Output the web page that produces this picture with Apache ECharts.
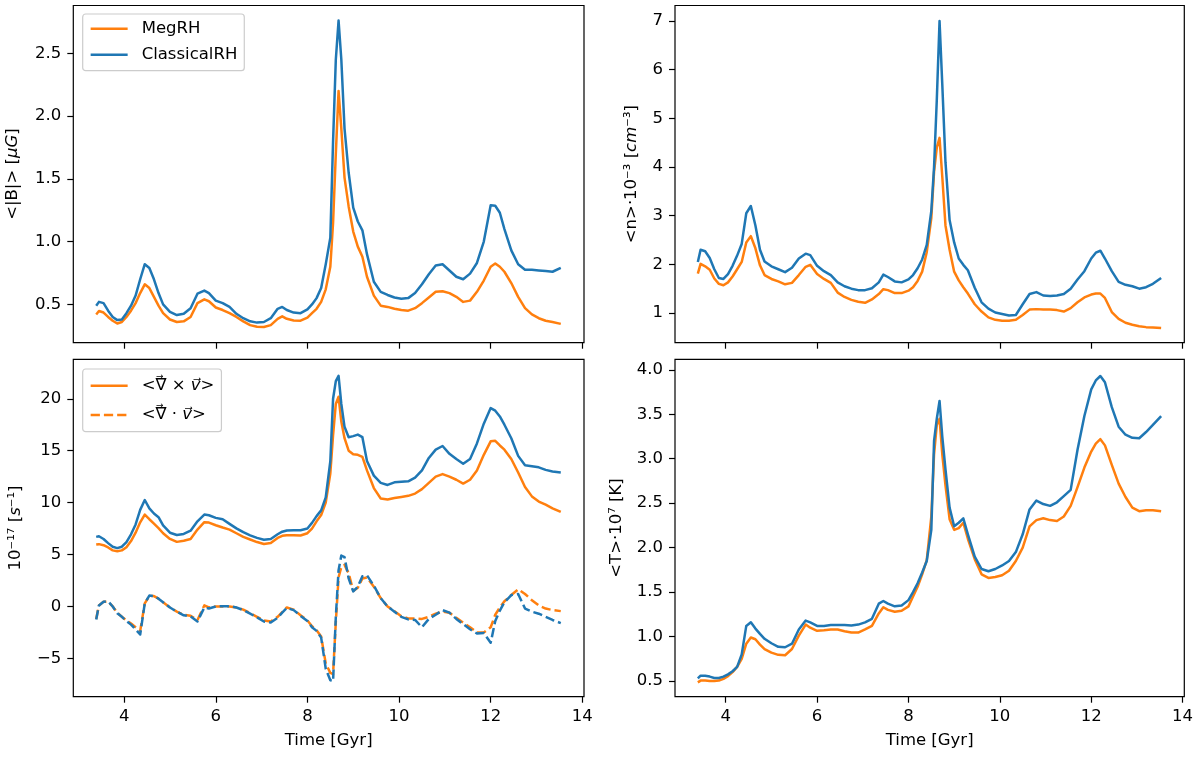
<!DOCTYPE html>
<html>
<head>
<meta charset="utf-8">
<script src="https://cdn.jsdelivr.net/npm/echarts@6/dist/echarts.min.js"></script>
<style>
  html, body { margin: 0; padding: 0; background: #fff; }
  #chart { width: 1200px; height: 758px; }
</style>
</head>
<body>
<div id="chart"></div>
<script>
// snapshot times [Gyr], shared by all four panels
const time = [3.39, 3.45, 3.55, 3.65, 3.75, 3.85, 3.95, 4.05, 4.15, 4.25,
  4.35, 4.45, 4.55, 4.65, 4.75, 4.85, 5.0, 5.15, 5.3, 5.45,
  5.6, 5.75, 5.85, 6.0, 6.15, 6.3, 6.45, 6.6, 6.75, 6.9,
  7.05, 7.2, 7.35, 7.45, 7.55, 7.7, 7.85, 8.0, 8.1, 8.2,
  8.3, 8.4, 8.5, 8.56, 8.62, 8.68, 8.74, 8.81, 8.9, 9.0,
  9.1, 9.2, 9.3, 9.45, 9.6, 9.75, 9.9, 10.05, 10.2, 10.35,
  10.5, 10.65, 10.8, 10.95, 11.1, 11.25, 11.4, 11.55, 11.7, 11.85,
  12.0, 12.1, 12.2, 12.3, 12.45, 12.6, 12.75, 12.9, 13.05, 13.2,
  13.35, 13.53];

// <|B|> [muG]
const bClassic = [0.49, 0.52, 0.51, 0.45, 0.40, 0.375, 0.38, 0.43, 0.49, 0.57,
  0.70, 0.82, 0.79, 0.70, 0.59, 0.50, 0.44, 0.415, 0.425, 0.47,
  0.585, 0.61, 0.59, 0.53, 0.51, 0.48, 0.425, 0.39, 0.365, 0.355,
  0.36, 0.39, 0.465, 0.48, 0.455, 0.435, 0.43, 0.46, 0.50, 0.55,
  0.63, 0.82, 1.03, 1.8, 2.45, 2.76, 2.45, 1.9, 1.55, 1.27,
  1.16, 1.09, 0.9, 0.68, 0.60, 0.575, 0.555, 0.545, 0.55, 0.59,
  0.66, 0.74, 0.81, 0.82, 0.77, 0.72, 0.70, 0.745, 0.83, 1.0,
  1.29, 1.285, 1.23, 1.10, 0.93, 0.82, 0.776, 0.775, 0.77, 0.765,
  0.76, 0.79];
const bMeg = [0.42, 0.447, 0.435, 0.40, 0.37, 0.348, 0.36, 0.40, 0.45, 0.51,
  0.59, 0.66, 0.63, 0.56, 0.49, 0.43, 0.38, 0.36, 0.365, 0.40,
  0.51, 0.54, 0.525, 0.475, 0.455, 0.43, 0.40, 0.365, 0.335, 0.322,
  0.32, 0.335, 0.385, 0.405, 0.385, 0.372, 0.37, 0.395, 0.43, 0.465,
  0.52, 0.62, 0.80, 1.15, 1.7, 2.2, 1.9, 1.51, 1.28, 1.08,
  0.96, 0.88, 0.72, 0.57, 0.49, 0.48, 0.465, 0.455, 0.45, 0.47,
  0.51, 0.555, 0.60, 0.605, 0.59, 0.56, 0.52, 0.53, 0.60, 0.69,
  0.80, 0.825, 0.80, 0.76, 0.67, 0.56, 0.47, 0.42, 0.39, 0.37,
  0.36, 0.345];

// <n> 10^-3 cm^-3
const nClassic = [2.05, 2.3, 2.27, 2.13, 1.90, 1.72, 1.70, 1.80, 1.97, 2.18,
  2.42, 3.05, 3.2, 2.8, 2.3, 2.06, 1.96, 1.90, 1.84, 1.93,
  2.12, 2.22, 2.19, 1.97, 1.86, 1.78, 1.63, 1.55, 1.50, 1.47,
  1.47, 1.51, 1.63, 1.79, 1.74, 1.65, 1.63, 1.69, 1.78, 1.92,
  2.1, 2.4, 3.1, 4.0, 5.38, 7.0, 5.7, 4.1, 2.91, 2.45,
  2.12, 1.99, 1.88, 1.52, 1.22, 1.09, 1.01, 0.98, 0.95, 0.96,
  1.18, 1.39, 1.43, 1.36, 1.35, 1.36, 1.39, 1.50, 1.69, 1.86,
  2.12, 2.24, 2.28, 2.12, 1.86, 1.64, 1.58, 1.55, 1.50, 1.53,
  1.60, 1.72];
const nMeg = [1.81, 2.01, 1.96, 1.89, 1.71, 1.60, 1.57, 1.63, 1.75, 1.90,
  2.05, 2.45, 2.58, 2.33, 1.98, 1.78, 1.70, 1.65, 1.59, 1.62,
  1.78, 1.95, 1.99, 1.80, 1.70, 1.62, 1.42, 1.33, 1.27, 1.23,
  1.21, 1.28, 1.39, 1.49, 1.47, 1.41, 1.41, 1.46, 1.53, 1.66,
  1.85, 2.25, 2.95, 3.9, 4.4, 4.6, 3.8, 2.8, 2.3, 1.85,
  1.67, 1.53, 1.40, 1.18, 1.03, 0.91, 0.86, 0.84, 0.84, 0.86,
  0.96, 1.07, 1.08, 1.07, 1.07, 1.06, 1.03, 1.10, 1.22, 1.32,
  1.38, 1.40, 1.40, 1.31, 1.02, 0.88, 0.80, 0.76, 0.73, 0.71,
  0.70, 0.69];

// 10^-17 s^-1 : curl (solid) and divergence (dashed)
const curlClassic = [6.7, 6.76, 6.5, 6.1, 5.75, 5.62, 5.75, 6.2, 6.95, 7.9,
  9.3, 10.25, 9.45, 8.95, 8.6, 7.8, 7.1, 6.88, 6.98, 7.3,
  8.2, 8.85, 8.78, 8.53, 8.4, 7.95, 7.52, 7.15, 6.85, 6.6,
  6.42, 6.5, 6.95, 7.2, 7.32, 7.34, 7.34, 7.5, 8.05, 8.7,
  9.25, 10.5, 14.0, 20.0, 21.7, 22.2, 19.5, 17.3, 16.3, 16.4,
  16.55, 16.3, 14.0, 12.6, 11.9, 11.7, 11.95, 12.0, 12.05, 12.4,
  13.1, 14.3, 15.1, 15.45, 14.7, 14.2, 13.75, 14.2, 15.7, 17.6,
  19.1, 18.85, 18.3, 17.5, 16.2, 14.5, 13.6, 13.5, 13.4, 13.15,
  13.0, 12.9];
const curlMeg = [5.96, 6.0, 5.9, 5.68, 5.4, 5.32, 5.4, 5.7, 6.3, 7.1,
  8.1, 8.85, 8.4, 7.98, 7.55, 7.05, 6.5, 6.22, 6.33, 6.5,
  7.4, 8.12, 8.08, 7.82, 7.6, 7.4, 7.05, 6.7, 6.45, 6.2,
  6.02, 6.1, 6.6, 6.8, 6.85, 6.85, 6.83, 7.05, 7.5, 8.2,
  8.8, 10.0, 12.8, 16.5, 19.5, 20.2, 17.8, 16.2, 15.0, 14.65,
  14.6, 14.4, 13.1, 11.4, 10.4, 10.3, 10.45, 10.55, 10.65, 10.87,
  11.3, 11.9, 12.5, 12.75, 12.5, 12.2, 11.83, 12.2, 13.1, 14.6,
  15.9, 15.95, 15.5, 15.1, 14.2, 12.9, 11.5, 10.6, 10.1, 9.8,
  9.45, 9.1];
const divClassic = [-1.25, 0.1, 0.45, 0.5, 0.0, -0.65, -1.0, -1.4, -1.75, -2.2,
  -2.7, 0.3, 1.05, 1.0, 0.75, 0.4, -0.1, -0.5, -0.85, -0.95,
  -1.45, -0.1, -0.19, 0.0, 0.02, 0.03, -0.1, -0.35, -0.7, -1.05,
  -1.45, -1.55, -1.1, -0.6, -0.15, -0.35, -0.9, -1.4, -2.0, -2.35,
  -3.0, -6.0, -7.1, -7.2, -1.0, 3.5, 4.9, 4.75, 2.7, 1.45,
  1.9, 2.9, 3.0, 2.0, 0.8, 0.0, -0.5, -1.0, -1.25, -1.3,
  -2.0, -1.2, -0.8, -0.35, -0.6, -1.2, -1.7, -2.2, -2.6, -2.55,
  -3.5, -1.4, -0.4, 0.4, 1.1, 1.2, -0.2, -0.5, -0.7, -1.0,
  -1.3, -1.6];
const divMeg = [-1.2, 0.1, 0.45, 0.45, 0.0, -0.6, -1.0, -1.35, -1.65, -2.0,
  -2.35, 0.3, 1.0, 1.0, 0.75, 0.4, -0.1, -0.5, -0.8, -0.9,
  -1.3, 0.1, -0.1, 0.0, 0.0, 0.0, -0.1, -0.3, -0.65, -1.0,
  -1.35, -1.45, -1.0, -0.55, -0.1, -0.3, -0.85, -1.35, -1.9, -2.3,
  -2.9, -5.5, -6.4, -6.5, -1.5, 2.8, 3.8, 4.0, 3.2, 1.5,
  1.8, 2.7, 2.8, 1.9, 0.8, 0.0, -0.45, -0.95, -1.15, -1.15,
  -1.2, -1.0, -0.7, -0.5, -0.6, -1.1, -1.55, -2.0, -2.5, -2.5,
  -2.0, -0.8, -0.1, 0.5, 1.1, 1.65, 1.2, 0.6, 0.1, -0.2,
  -0.35, -0.45];

// <T> 10^7 K
const tClassic = [0.53, 0.56, 0.56, 0.55, 0.535, 0.535, 0.55, 0.575, 0.61, 0.66,
  0.80, 1.12, 1.16, 1.09, 1.03, 0.975, 0.925, 0.885, 0.88, 0.92,
  1.08, 1.18, 1.16, 1.12, 1.12, 1.13, 1.13, 1.13, 1.125, 1.135,
  1.16, 1.2, 1.37, 1.40, 1.37, 1.34, 1.35, 1.41, 1.50, 1.60,
  1.72, 1.85, 2.2, 3.2, 3.45, 3.65, 3.25, 2.88, 2.45, 2.24,
  2.28, 2.33, 2.15, 1.9, 1.76, 1.735, 1.76, 1.80, 1.85, 1.95,
  2.15, 2.43, 2.53, 2.49, 2.47, 2.51, 2.58, 2.65, 3.1, 3.48,
  3.78, 3.88, 3.93, 3.86, 3.58, 3.36, 3.27, 3.235, 3.23, 3.30,
  3.38, 3.48];
const tMeg = [0.485, 0.505, 0.505, 0.50, 0.50, 0.505, 0.525, 0.555, 0.60, 0.66,
  0.75, 0.92, 0.99, 0.97, 0.91, 0.86, 0.82, 0.795, 0.79, 0.86,
  1.01, 1.135, 1.10, 1.065, 1.07, 1.08, 1.08, 1.06, 1.045, 1.045,
  1.08, 1.12, 1.26, 1.33, 1.30, 1.28, 1.29, 1.34, 1.45, 1.56,
  1.70, 1.86, 2.35, 3.05, 3.38, 3.45, 3.05, 2.7, 2.32, 2.2,
  2.22, 2.28, 2.1, 1.87, 1.70, 1.66, 1.67, 1.69, 1.74, 1.85,
  2.0, 2.24, 2.31, 2.33, 2.31, 2.30, 2.35, 2.47, 2.68, 2.9,
  3.08, 3.17, 3.22, 3.15, 2.93, 2.72, 2.57, 2.45, 2.41, 2.42,
  2.42, 2.41];

// tick labels
const xTicks = [4, 6, 8, 10, 12, 14];
const bTicks = [0.5, 1.0, 1.5, 2.0, 2.5];
const nTicks = [1, 2, 3, 4, 5, 6, 7];
const vTicks = [-5, 0, 5, 10, 15, 20];
const tTicks = [0.5, 1.0, 1.5, 2.0, 2.5, 3.0, 3.5, 4.0];

const ORANGE = '#ff7f0e';
const BLUE = '#1f77b4';
const FONT = 'DejaVu Sans';
const FS = 16.5;
const CURL = '<∇⃗ × v⃗>';
const DIV = '<∇⃗ · v⃗>';

const pairs = (ys) => time.map((t, i) => [t, ys[i]]);
const oneDec = (v) => v.toFixed(1);
const mplNum = (v) => (v < 0 ? '\u2212' + Math.abs(v) : String(v));

const panels = [
  { left: 73.3, top: 5.5, width: 510.7, height: 337.2, min: 0.195, max: 2.88,
    ticks: bTicks, fmt: oneDec, name: '<|B|> [{i|μG}]', gap: 52, xLab: false },
  { left: 675, top: 5.5, width: 509.3, height: 337.2, min: 0.39, max: 7.32,
    ticks: nTicks, fmt: mplNum, name: '<n>·10⁻³ [{i|cm}⁻³]', gap: 35, xLab: false },
  { left: 73.3, top: 359.3, width: 510.7, height: 337.4, min: -8.69, max: 23.8,
    ticks: vTicks, fmt: mplNum, name: '10⁻¹⁷ [{i|s}⁻¹]', gap: 49, xLab: true },
  { left: 675, top: 359.3, width: 509.3, height: 337.4, min: 0.324, max: 4.118,
    ticks: tTicks, fmt: oneDec, name: '<T>·10⁷ [K]', gap: 50, xLab: true }
];

const tickStyle = { color: '#000', width: 1.2 };
const labelStyle = { fontFamily: FONT, fontSize: FS, color: '#000' };

const grid = panels.map((p) => ({
  left: p.left, top: p.top, width: p.width, height: p.height,
  show: true, borderColor: '#000', borderWidth: 1.2, backgroundColor: 'transparent'
}));

const xAxis = panels.map((p, i) => ({
  type: 'value', gridIndex: i, min: 2.89, max: 14.037,
  axisLine: { show: false, onZero: false },
  splitLine: { show: false },
  axisTick: { show: true, length: 6, lineStyle: tickStyle, customValues: xTicks },
  axisLabel: { show: p.xLab, margin: 12, customValues: xTicks, ...labelStyle },
  name: p.xLab ? 'Time [Gyr]' : '',
  nameLocation: 'middle', nameGap: 36,
  nameTextStyle: labelStyle
}));

const yAxis = panels.map((p, i) => ({
  type: 'value', gridIndex: i, min: p.min, max: p.max,
  axisLine: { show: false, onZero: false },
  splitLine: { show: false },
  axisTick: { show: true, length: 6, lineStyle: tickStyle, customValues: p.ticks },
  axisLabel: { margin: 12, customValues: p.ticks, formatter: p.fmt, ...labelStyle },
  name: p.name, nameLocation: 'middle', nameRotate: 90, nameGap: p.gap,
  nameTextStyle: { ...labelStyle, rich: { i: { fontStyle: 'italic', fontFamily: FONT, fontSize: FS, color: '#000' } } }
}));

function line(name, data, idx, color, dashed, z) {
  return {
    name, type: 'line', data: pairs(data),
    xAxisIndex: idx, yAxisIndex: idx,
    symbol: 'none', showSymbol: false, z,
    lineStyle: { color, width: 2.5, type: dashed ? [9.25, 4] : 'solid', join: 'round', cap: 'butt' },
    itemStyle: { color },
    emphasis: { disabled: true }
  };
}

const series = [
  line('MegRH', bMeg, 0, ORANGE, false, 2),
  line('ClassicalRH', bClassic, 0, BLUE, false, 3),
  line('n MegRH', nMeg, 1, ORANGE, false, 2),
  line('n ClassicalRH', nClassic, 1, BLUE, false, 3),
  line(CURL, curlMeg, 2, ORANGE, false, 2),
  line('curl ClassicalRH', curlClassic, 2, BLUE, false, 3),
  line(DIV, divMeg, 2, ORANGE, true, 2),
  line('div ClassicalRH', divClassic, 2, BLUE, true, 3),
  line('T MegRH', tMeg, 3, ORANGE, false, 2),
  line('T ClassicalRH', tClassic, 3, BLUE, false, 3)
];

// legend: line handle only (hide the marker ECharts adds for line series)
const LEG_LEFT = 82.7, LEG_PAD = 6.7, LEG_ICON = 37, TXT_PAD = 9;
const legendBase = {
  orient: 'vertical', itemWidth: LEG_ICON, itemHeight: 14,
  backgroundColor: 'rgba(255,255,255,0.8)', borderColor: '#cccccc',
  borderWidth: 1.2, borderRadius: 3,
  selectedMode: false,
  itemStyle: { opacity: 0, borderWidth: 0 },
  lineStyle: { width: 2.5 },
  textStyle: { fontFamily: FONT, fontSize: FS, color: '#000', lineHeight: 20, padding: [0, 0, 0, TXT_PAD] }
};

// arrow over the nabla (the combining arrow sits too low on a capital-height glyph)
const ctx = document.createElement('canvas').getContext('2d');
ctx.font = FS + 'px "' + FONT + '"';
const nablaX = LEG_LEFT + LEG_PAD + LEG_ICON + 5 + TXT_PAD
  + ctx.measureText('<').width + ctx.measureText('∇').width / 2;
const rowY = [369 + 4.7 + 12, 369 + 4.7 + 24 + 5.3 + 12];
const arrows = rowY.map((y) => ({
  type: 'text', x: nablaX, y: y - 9.5, z: 100,
  style: { text: '→', fontFamily: FONT, fontSize: 9, fill: '#000', align: 'center', verticalAlign: 'middle' }
}));

const option = {
  animation: false,
  backgroundColor: '#fff',
  textStyle: { fontFamily: FONT },
  grid, xAxis, yAxis, series,
  legend: [
    { ...legendBase, left: LEG_LEFT, top: 14, itemGap: 6, padding: [4.7, 7, 6, LEG_PAD],
      data: ['MegRH', 'ClassicalRH'] },
    { ...legendBase, left: LEG_LEFT, top: 369, itemGap: 5.3, padding: [4.7, 7, 4.7, LEG_PAD],
      data: [CURL, DIV],
      formatter: (n) => (n === CURL ? '<∇ × {i|v⃗}>' : '<∇ · {i|v⃗}>'),
      textStyle: { ...legendBase.textStyle, lineHeight: 24,
        rich: { i: { fontStyle: 'italic', fontFamily: FONT, fontSize: FS, color: '#000' } } } }
  ],
  graphic: arrows
};

const chart = echarts.init(document.getElementById('chart'));
chart.setOption(option);
window.addEventListener('resize', () => chart.resize());
</script>
</body>
</html>
